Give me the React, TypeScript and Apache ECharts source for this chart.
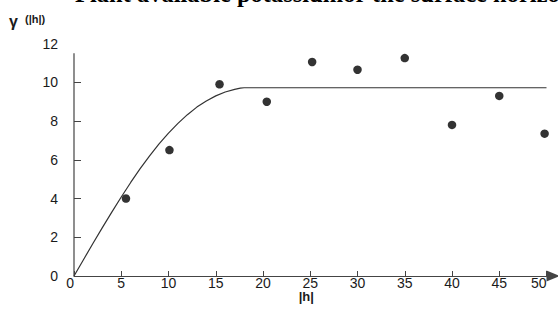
import React, { useEffect, useRef } from "react";
import * as echarts from "echarts";

const titleText = "Plant available potassiumor the surface horizon";
const xAxisName = "|h|";
const yAxisSymbol = "γ";
const yAxisSuffix = "(|h|)";

const xTicks = [0, 50, 5];
const yTicks = [0, 12, 2];

// observed semivariance points
const lagH = [5.5, 10.1, 15.4, 20.4, 25.2, 30.0, 35.0, 40.0, 45.0, 49.8];
const gammaObs = [4.0, 6.5, 9.9, 9.0, 11.05, 10.65, 11.25, 7.8, 9.3, 7.35];

// fitted model curve
const modelH = [0, 1, 2, 3, 4, 5, 6, 7, 8, 9, 10, 11, 12, 13, 14, 15, 16, 17, 17.6, 18, 50];
const modelGamma = [0, 0.84, 1.68, 2.5, 3.3, 4.08, 4.83, 5.54, 6.2, 6.82, 7.38, 7.88, 8.33, 8.72, 9.04, 9.3, 9.5, 9.64, 9.7, 9.72, 9.72];

export default function App() {
  const ref = useRef<HTMLDivElement>(null);
  useEffect(() => {
    if (!ref.current) return;
    const chart = echarts.init(ref.current, undefined, { renderer: "svg" });
    const axisColor = "#444";
    const textColor = "#1a1a1a";
    const option: any = {
      animation: false,
      backgroundColor: "#fff",
      grid: {
        left: 74,
        right: 11.5,
        top: 43.6,
        bottom: 46,
        containLabel: false,
        outerBoundsMode: "none",
      },
      xAxis: {
        type: "value",
        min: xTicks[0],
        max: xTicks[1],
        interval: xTicks[2],
        splitLine: { show: false },
        axisLine: {
          show: true,
          lineStyle: { color: axisColor, width: 1.2 },
          symbol: ["none", "triangle"],
          symbolSize: [11, 13],
          symbolOffset: [0, 6.5],
        },
        axisTick: { show: true, inside: true, length: 5, lineStyle: { color: axisColor } },
        axisLabel: {
          color: textColor,
          fontFamily: "Liberation Sans, Arial, sans-serif",
          fontSize: 14,
          margin: 0,
          alignMinLabel: "right",
          alignMaxLabel: "right",
        },
      },
      yAxis: {
        type: "value",
        min: yTicks[0],
        max: yTicks[1],
        interval: yTicks[2],
        splitLine: { show: false },
        axisLine: { show: false },
        axisTick: {
          show: true,
          inside: true,
          length: 7,
          lineStyle: { color: axisColor },
          customValues: [0, 2, 4, 6, 8, 10],
        },
        axisLabel: {
          color: textColor,
          fontFamily: "Liberation Sans, Arial, sans-serif",
          fontSize: 14,
          margin: 16,
        },
      },
      series: [
        {
          type: "line",
          data: modelH.map((h, i) => [h, modelGamma[i]]),
          showSymbol: false,
          symbol: "none",
          smooth: false,
          lineStyle: { color: "#333", width: 1.2 },
          z: 2,
        },
        {
          type: "scatter",
          data: lagH.map((h, i) => [h, gammaObs[i]]),
          symbol: "circle",
          symbolSize: 8.5,
          itemStyle: { color: "#000" },
          z: 3,
        },
      ],
    };
    chart.setOption(option);
    const p0 = chart.convertToPixel({ gridIndex: 0 }, [0, 0]) as number[];
    const p1 = chart.convertToPixel({ gridIndex: 0 }, [0, 11.5]) as number[];
    const hMid = chart.convertToPixel({ gridIndex: 0 }, [25, 0]) as number[];
    chart.setOption({
      graphic: [
        {
          type: "line",
          shape: { x1: p0[0], y1: p0[1], x2: p1[0], y2: p1[1] },
          style: { stroke: axisColor, lineWidth: 1.2 },
          z: 10,
        },
        {
          type: "text",
          x: 75,
          y: -7,
          style: {
            text: titleText,
            font: "bold 24.5px 'Liberation Serif', 'Times New Roman', serif",
            fill: "#000",
            align: "left",
            verticalAlign: "middle",
          },
        },
        {
          type: "text",
          x: 9,
          y: 21,
          style: {
            text: yAxisSymbol,
            font: "bold 16px 'Liberation Sans', Arial, sans-serif",
            fill: textColor,
            align: "left",
            verticalAlign: "middle",
          },
        },
        {
          type: "text",
          x: 25,
          y: 19,
          style: {
            text: yAxisSuffix,
            font: "bold 11px 'Liberation Sans', Arial, sans-serif",
            fill: textColor,
            align: "left",
            verticalAlign: "middle",
          },
        },
        {
          type: "text",
          x: hMid[0] - 4,
          y: 296,
          style: {
            text: xAxisName,
            font: "bold 13px 'Liberation Sans', Arial, sans-serif",
            fill: textColor,
            align: "center",
            verticalAlign: "middle",
          },
        },
      ],
    });
    return () => chart.dispose();
  }, []);
  return (
    <div
      ref={ref}
      style={{ position: "fixed", left: 0, top: 0, width: 558, height: 322, background: "#fff" }}
    />
  );
}
